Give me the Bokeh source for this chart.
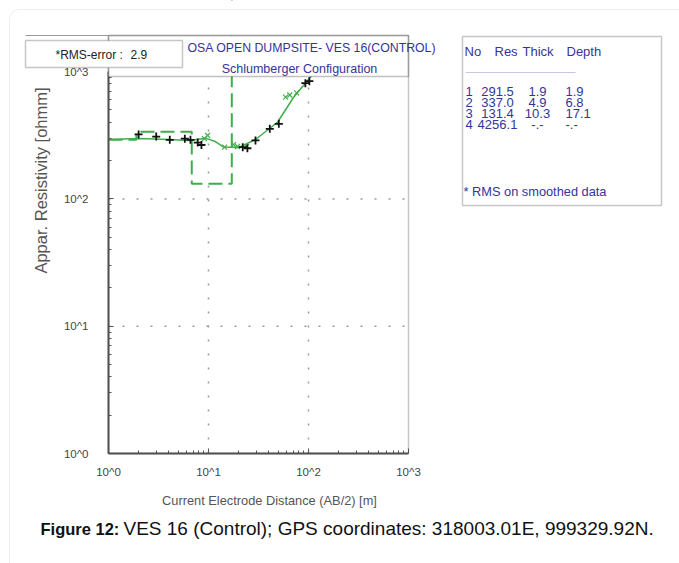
import numpy as np
from bokeh.plotting import figure
from bokeh.models import FixedTicker, Label, BoxAnnotation
from bokeh.embed import file_html
from bokeh.resources import INLINE

# ---- sounding data -------------------------------------------------------
# observed apparent resistivity (field curve)
obs_ab2 = [2.0, 3.0, 4.1, 5.8, 6.6, 7.8, 8.5, 22.0, 24.5, 29.5, 41.0, 50.5, 93.0, 102.0]
obs_rho = [321, 309, 291, 297, 291, 277, 265, 255, 250, 288, 355, 389, 811, 841]

# calculated response at the sounding points
calc_ab2 = [9.1, 9.8, 14.5, 17.8, 19.5, 24.0, 59.0, 65.0, 76.0]
calc_rho = [298, 315, 255, 267, 258, 259, 630, 655, 680]

# smoothed model curve
curve_ab2 = [1.0, 2.0, 4.0, 6.6, 9.3, 11.7, 14.1, 20.0, 29.5, 49.0, 71.0, 98.0, 130.0]
curve_rho = [293, 298, 293, 288, 300, 282, 256, 253, 293, 400, 629, 851, 1110]

# interpreted layer model
layer_no = [1, 2, 3, 4]
layer_res = [291.5, 337.0, 131.4, 4256.1]
layer_thick = [1.9, 4.9, 10.3, None]
layer_depth = [1.9, 6.8, 17.1, None]
rms_error = 2.9

tick_values = [1, 10, 100, 1000]
tick_labels = ["10^0", "10^1", "10^2", "10^3"]

title_line1 = "OSA OPEN DUMPSITE- VES 16(CONTROL)"
title_line2 = "Schlumberger Configuration"
x_label = "Current Electrode Distance (AB/2) [m]"
y_label = "Appar. Resistivity [ohmm]"
caption_bold = "Figure 12:"
caption_text = "VES 16 (Control); GPS coordinates: 318003.01E, 999329.92N."

# ---- page geometry -------------------------------------------------------
W, H = 679, 563
X0_PX, X_DEC = 108, 100.0      # page x of AB/2 = 1, pixels per decade
Y0_PX, Y_DEC = 453, 127.3      # page y of rho = 1, pixels per decade
BOX_TOP = 35                   # top edge of the plot box
STRIP_BOTTOM = 76              # lower edge of the title strip


def px_to_x(px):
    return 10 ** ((px - X0_PX) / X_DEC)


def py_to_y(py):
    return 10 ** ((Y0_PX - py) / Y_DEC)


GREEN = "#3fae49"
NAVY = "#34349a"
SANS = "Liberation Sans"

x_lo, x_hi = tick_values[0], tick_values[-1]
y_lo, y_hi = tick_values[0], tick_values[-1]

# the frame fills the page; the axes are pinned at AB/2 = 1 and rho = 1
p = figure(
    width=W, height=H,
    x_axis_type="log", y_axis_type="log",
    x_range=(px_to_x(0), px_to_x(W)), y_range=(py_to_y(H), py_to_y(0)),
    min_border=0, output_backend="svg", toolbar_location=None,
)
p.title.visible = False
p.outline_line_color = None
p.background_fill_color = "white"
p.border_fill_color = "white"
p.grid.visible = False

minor = [k * 10 ** d for d in range(0, 3) for k in range(2, 10)]
for ax in (p.xaxis[0], p.yaxis[0]):
    ax.fixed_location = 1
    ax.bounds = (x_lo, x_hi)
    ax.ticker = FixedTicker(ticks=tick_values, minor_ticks=minor)
    ax.major_label_overrides = {v: s for v, s in zip(tick_values, tick_labels)}
    ax.axis_line_color = "#555555"
    ax.axis_line_width = 2
    ax.major_tick_in = 5
    ax.major_tick_out = 0
    ax.minor_tick_in = 3
    ax.minor_tick_out = 0
    ax.major_tick_line_color = "#555555"
    ax.minor_tick_line_color = "#555555"
    ax.major_label_text_font = SANS
    ax.major_label_text_font_size = "11.5px"
    ax.major_label_text_color = "#444444"
p.xaxis.major_label_standoff = 12
p.yaxis.major_label_standoff = 20

# dotted grid at the inner decades
inner = tick_values[1:-1]
p.segment(x0=inner, y0=[y_lo] * len(inner), x1=inner, y1=[y_hi] * len(inner),
          line_color="#9a9a9a", line_dash="2 12", line_width=1.5, level="underlay")
p.segment(x0=[x_lo] * len(inner), y0=inner, x1=[x_hi] * len(inner), y1=inner,
          line_color="#9a9a9a", line_dash="2 12", line_width=1.5, level="underlay")

# layer model as a dashed step line
step_x = [x_lo]
step_y = [layer_res[0]]
for i, d in enumerate(layer_depth[:-1]):
    step_x += [d, d]
    step_y += [layer_res[i], layer_res[i + 1]]
p.line(step_x, step_y, line_color=GREEN, line_width=2, line_dash="14 6")

# model response curve, calculated points and field data
p.line(curve_ab2, curve_rho, line_color=GREEN, line_width=1.5)
p.scatter(calc_ab2, calc_rho, marker="x", size=7, line_color=GREEN, line_width=1.2)
p.scatter(obs_ab2, obs_rho, marker="cross", size=8, line_color="#111111", line_width=1.8)

# white cover above the plot box, title strip and plot box outline
p.add_layout(BoxAnnotation(left=x_lo, right=x_hi, bottom=py_to_y(BOX_TOP),
                           fill_color="white", fill_alpha=1, line_color=None))
p.add_layout(BoxAnnotation(left=x_lo, right=x_hi, bottom=py_to_y(STRIP_BOTTOM),
                           top=py_to_y(BOX_TOP), fill_color="white", fill_alpha=1,
                           line_color="#333333", line_width=1.5))
p.add_layout(BoxAnnotation(left=x_lo, right=x_hi, bottom=y_lo, top=py_to_y(BOX_TOP),
                           fill_alpha=0, line_color="#444444", line_width=1.5))


def put_box(l, t, r, b, line_color=None, line_width=1, fill=None, radius=0, dash="solid"):
    p.add_layout(BoxAnnotation(
        left=l, right=r, top=H - t, bottom=H - b,
        left_units="screen", right_units="screen", top_units="screen", bottom_units="screen",
        fill_color=fill, fill_alpha=1 if fill else 0,
        line_color=line_color, line_width=line_width, line_dash=dash,
        border_radius=radius))


def put_text(txt, cx, cy, size, color, font=SANS, align="left",
             baseline="middle", style="normal", angle=0):
    p.add_layout(Label(
        x=cx, y=H - cy, x_units="screen", y_units="screen", text=txt,
        text_font=font, text_font_size=f"{size}px", text_color=color,
        text_align=align, text_baseline=baseline, text_font_style=style, angle=angle))


# card outline
put_box(9, 9, W + 40, H + 40, line_color="#c4c4c4", line_width=1, radius=10)

# titles
put_text(title_line1, 187, 47, 12.3, NAVY)
put_text(title_line2, 299, 68, 12.5, NAVY, align="center")

# RMS box
put_box(25, 34.5, X0_PX, 35.5, fill="#9a9a9a")
put_box(25, 40, 182, 67, line_color="#444444", line_width=1.5, fill="white")
put_text("*RMS-error :", 55, 54, 12, "#222222")
put_text(f"{rms_error}", 130, 54, 12, "#222222")

# axis titles
put_text(x_label, 269, 500, 12.8, "#555555", align="center")
put_text(y_label, 40, 180, 16.5, "#555555", align="center", angle=np.pi / 2)

# layer table
put_box(462, 36, 661, 205, line_color="#444444", line_width=1.5)
for txt, cx in zip(["No", "Res", "Thick", "Depth"], [464, 494, 522, 566]):
    put_text(txt, cx, 51, 13, NAVY)
put_box(465, 72, 575, 72, line_color=NAVY, line_width=1, dash="1 1")
for i, (n, r, th, dp) in enumerate(zip(layer_no, layer_res, layer_thick, layer_depth)):
    cy = 91 + i * 11
    put_text(str(n), 465, cy, 13, NAVY)
    put_text(f"{r:.1f}", 497, cy, 13, NAVY, align="center")
    put_text(f"{th}" if th is not None else "-.-", 537, cy, 13, NAVY, align="center")
    put_text(f"{dp}" if dp is not None else "-.-", 565, cy, 13, NAVY)
put_text("* RMS on smoothed data", 463, 191, 12.8, NAVY)

# caption
put_text(caption_bold, 40, 528, 16.5, "#111111", style="bold")
put_text(caption_text, 123, 528, 19, "#111111")

open("out.html", "w").write(file_html(p, INLINE))
